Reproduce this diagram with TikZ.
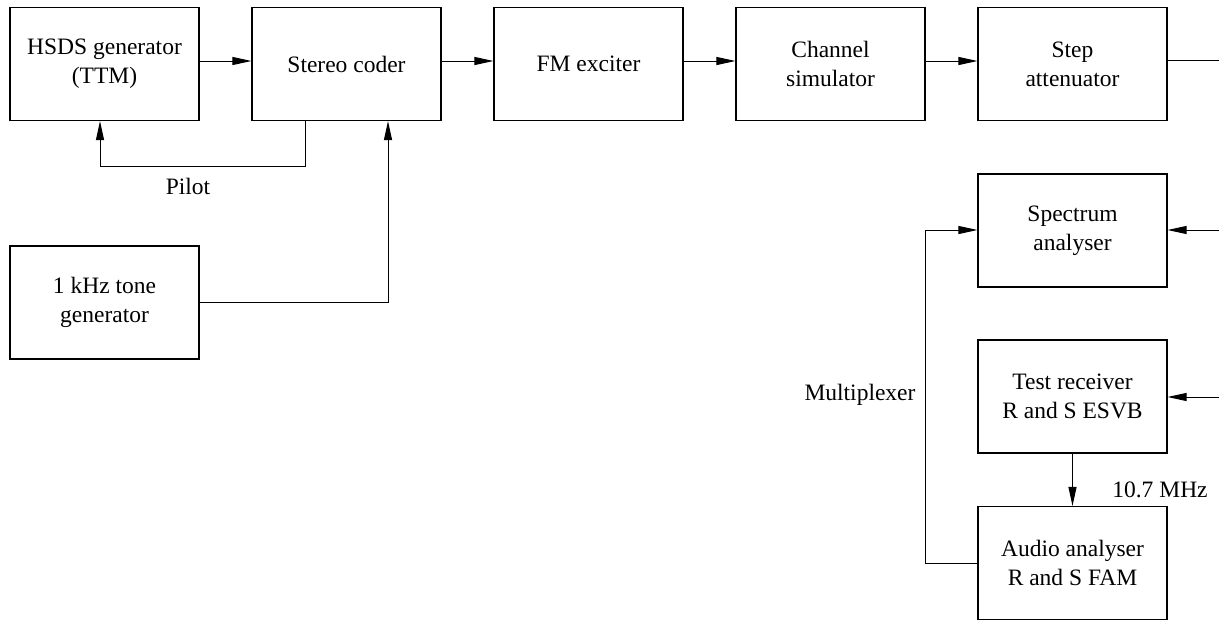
\documentclass[tikz,border=0pt]{standalone}
\usepackage{fontspec}
\setmainfont{Liberation Serif}
\usetikzlibrary{arrows.meta}
\begin{document}
\begin{tikzpicture}[x=1pt,y=-1pt,
  blk/.style={draw,line width=1.1pt,minimum width=189pt,minimum height=113pt,inner sep=0pt,align=center,font=\fontsize{23.5}{29}\selectfont},
  lbl/.style={font=\fontsize{23.5}{29}\selectfont,inner sep=0pt},
  conn/.style={line width=1pt},
  arr/.style={conn,-{Triangle[length=19pt,width=8pt]}}]
\useasboundingbox (0,0) rectangle (1219,621);
\node[blk] (hsds) at (104.5,64) {HSDS generator\\(TTM)};
\node[blk] (stereo) at (346.5,64) {Stereo coder};
\node[blk] (fm) at (588.5,64) {FM exciter};
\node[blk] (chan) at (830.5,64) {Channel\\simulator};
\node[blk] (step) at (1072.5,64) {Step\\attenuator};
\node[blk] (tone) at (104.5,302.5) {1 kHz tone\\generator};
\node[blk] (spec) at (1072.5,230.5) {Spectrum\\analyser};
\node[blk] (test) at (1072.5,396.5) {Test receiver\\R and S ESVB};
\node[blk] (audio) at (1072.5,563) {Audio analyser\\R and S FAM};
\node[lbl] (pilot) at (188,186) {Pilot};
\node[lbl] (mux) at (860,395) {Multiplexer};
\node[lbl] (mhz) at (1160,490) {10.7 MHz};
\coordinate (stepout) at (1219,60);
\coordinate (specin) at (1219,230);
\coordinate (testin) at (1219,397);
\draw[arr] (hsds.east |- 0,61) -- (stereo.west |- 0,61);
\draw[arr] (stereo.east |- 0,61) -- (fm.west |- 0,61);
\draw[arr] (fm.east |- 0,61) -- (chan.west |- 0,61);
\draw[arr] (chan.east |- 0,61) -- (step.west |- 0,61);
\draw[conn] (step.east |- stepout) -- (stepout);
\draw[arr] (stereo.south -| 305,0) -- (305,166) -- (100,166) -- (hsds.south -| 100,0);
\draw[arr] (tone.east |- 0,302) -- (388,302) -- (stereo.south -| 388,0);
\draw[arr] (specin) -- (spec.east |- specin);
\draw[arr] (testin) -- (test.east |- testin);
\draw[arr] (test.south) -- (audio.north);
\draw[arr] (audio.west) -- (925,563) -- (925,230) -- (spec.west |- 0,230);
\end{tikzpicture}
\end{document}
